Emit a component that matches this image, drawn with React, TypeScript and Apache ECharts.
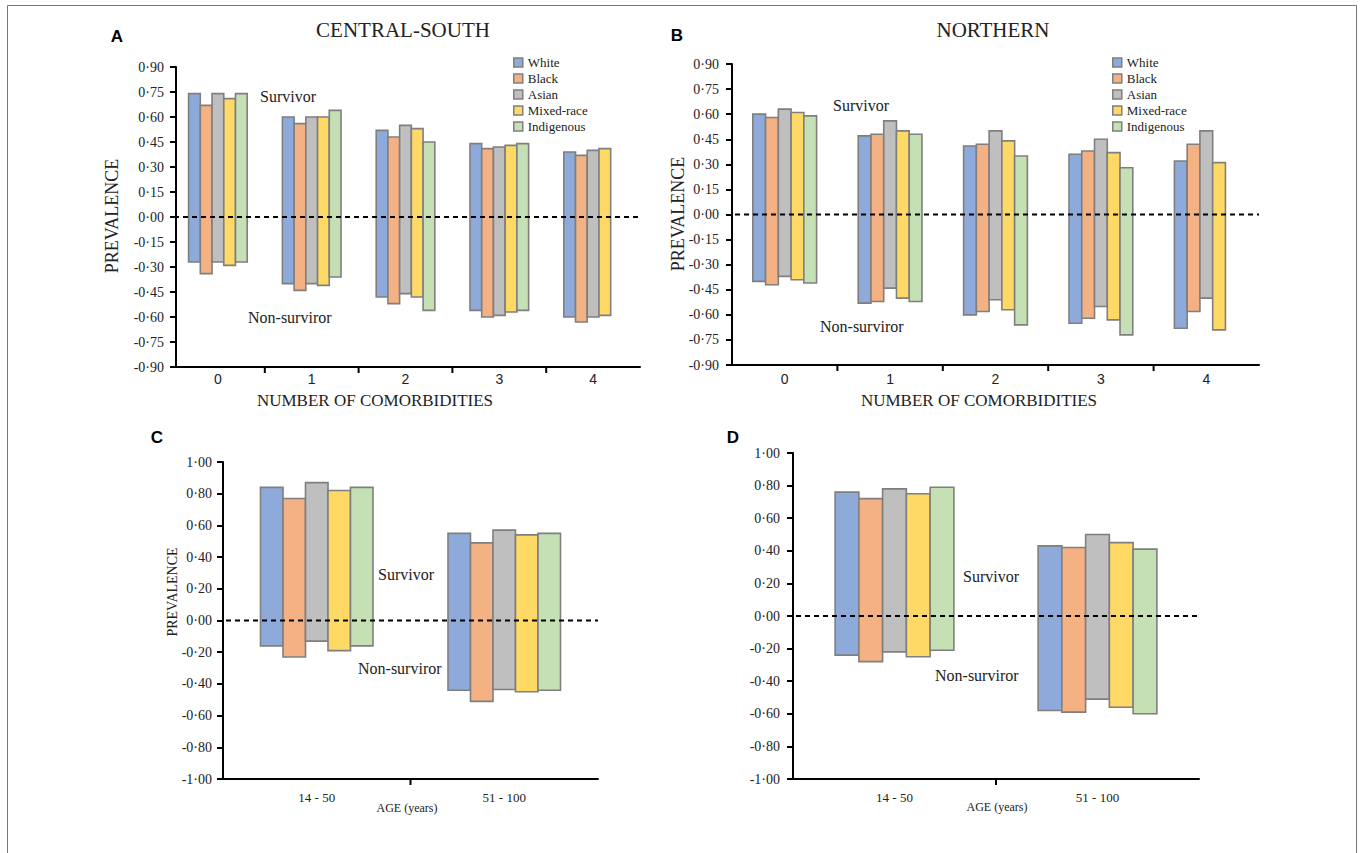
import React, { useEffect, useRef } from 'react';
import * as echarts from 'echarts';

const RACES = ['White', 'Black', 'Asian', 'Mixed-race', 'Indigenous'];
const RACE_COLORS = ['#8eaadb', '#f4b183', '#bfbfbf', '#ffd966', '#c5e0b4'];
const BORDER = '#7f7f7f';

const COMORBIDITY_CATEGORIES = ['0', '1', '2', '3', '4'];
const AGE_CATEGORIES = ['14 - 50', '51 - 100'];

const COMORB_TICKS = [-0.9, 0.9, 0.15];
const AGE_TICKS = [-1, 1, 0.2];

// Panel A – CENTRAL-SOUTH, by number of comorbidities (rows = races)
const A_SURVIVOR: (number | null)[][] = [
  [0.74, 0.60, 0.52, 0.44, 0.39],
  [0.67, 0.56, 0.48, 0.41, 0.37],
  [0.74, 0.60, 0.55, 0.42, 0.40],
  [0.71, 0.60, 0.53, 0.43, 0.41],
  [0.74, 0.64, 0.45, 0.44, null],
];
const A_NON_SURVIVOR: (number | null)[][] = [
  [-0.27, -0.40, -0.48, -0.56, -0.60],
  [-0.34, -0.44, -0.52, -0.60, -0.63],
  [-0.27, -0.40, -0.46, -0.59, -0.60],
  [-0.29, -0.41, -0.48, -0.57, -0.59],
  [-0.27, -0.36, -0.56, -0.56, null],
];

// Panel B – NORTHERN, by number of comorbidities
const B_SURVIVOR: (number | null)[][] = [
  [0.60, 0.47, 0.41, 0.36, 0.32],
  [0.58, 0.48, 0.42, 0.38, 0.42],
  [0.63, 0.56, 0.50, 0.45, 0.50],
  [0.61, 0.50, 0.44, 0.37, 0.31],
  [0.59, 0.48, 0.35, 0.28, null],
];
const B_NON_SURVIVOR: (number | null)[][] = [
  [-0.40, -0.53, -0.60, -0.65, -0.68],
  [-0.42, -0.52, -0.58, -0.62, -0.58],
  [-0.37, -0.44, -0.51, -0.55, -0.50],
  [-0.39, -0.50, -0.57, -0.63, -0.69],
  [-0.41, -0.52, -0.66, -0.72, null],
];

// Panel C – CENTRAL-SOUTH, by age group
const C_SURVIVOR: (number | null)[][] = [
  [0.84, 0.55],
  [0.77, 0.49],
  [0.87, 0.57],
  [0.82, 0.54],
  [0.84, 0.55],
];
const C_NON_SURVIVOR: (number | null)[][] = [
  [-0.16, -0.44],
  [-0.23, -0.51],
  [-0.13, -0.435],
  [-0.19, -0.45],
  [-0.16, -0.44],
];

// Panel D – NORTHERN, by age group
const D_SURVIVOR: (number | null)[][] = [
  [0.76, 0.43],
  [0.72, 0.42],
  [0.78, 0.50],
  [0.75, 0.45],
  [0.79, 0.41],
];
const D_NON_SURVIVOR: (number | null)[][] = [
  [-0.24, -0.58],
  [-0.28, -0.59],
  [-0.22, -0.51],
  [-0.25, -0.56],
  [-0.21, -0.60],
];

const SERIF = '"Liberation Serif", "Times New Roman", serif';
const SANS = '"Liberation Sans", Arial, sans-serif';

const fmt = (v: number) => {
  if (Math.abs(v) < 1e-9) return '0·00';
  return (v < 0 ? '-' : '') + Math.abs(v).toFixed(2).replace('.', '·');
};

type Panel = {
  grid: { left: number; top: number; width: number; height: number };
  cats: string[];
  ticks: number[];
  surv: (number | null)[][];
  non: (number | null)[][];
  barRatio: number;
  yOffset: number;
  labelMargin: number;
  xLabel: { fontFamily: string; fontSize: number; margin: number };
};

const PANELS: Panel[] = [
  {
    grid: { left: 171, top: 67, width: 469, height: 300 },
    cats: COMORBIDITY_CATEGORIES, ticks: COMORB_TICKS,
    surv: A_SURVIVOR, non: A_NON_SURVIVOR, barRatio: 0.125, yOffset: -5, labelMargin: 12,
    xLabel: { fontFamily: SANS, fontSize: 14, margin: 5 },
  },
  {
    grid: { left: 732, top: 64, width: 527, height: 301 },
    cats: COMORBIDITY_CATEGORIES, ticks: COMORB_TICKS,
    surv: B_SURVIVOR, non: B_NON_SURVIVOR, barRatio: 0.121, yOffset: 0, labelMargin: 13,
    xLabel: { fontFamily: SANS, fontSize: 14, margin: 7 },
  },
  {
    grid: { left: 223, top: 462, width: 375, height: 317 },
    cats: AGE_CATEGORIES, ticks: AGE_TICKS,
    surv: C_SURVIVOR, non: C_NON_SURVIVOR, barRatio: 0.12, yOffset: 0, labelMargin: 11,
    xLabel: { fontFamily: SERIF, fontSize: 13, margin: 12 },
  },
  {
    grid: { left: 793, top: 453, width: 406, height: 326 },
    cats: AGE_CATEGORIES, ticks: AGE_TICKS,
    surv: D_SURVIVOR, non: D_NON_SURVIVOR, barRatio: 0.117, yOffset: 0, labelMargin: 13,
    xLabel: { fontFamily: SERIF, fontSize: 13, margin: 12 },
  },
];

function buildOption() {
  const grid = PANELS.map((p) => ({ ...p.grid }));
  const xAxis = PANELS.map((p, g) => ({
    gridIndex: g,
    type: 'category',
    data: p.cats,
    axisLine: { show: true, onZero: false, lineStyle: { color: '#000', width: 2 } },
    axisTick: { show: false },
    axisLabel: { color: '#222', fontFamily: p.xLabel.fontFamily, fontSize: p.xLabel.fontSize, margin: p.xLabel.margin },
    splitLine: { show: false },
  }));
  const yAxis = PANELS.map((p, g) => ({
    gridIndex: g,
    type: 'value',
    min: p.ticks[0],
    max: p.ticks[1],
    interval: p.ticks[2],
    offset: p.yOffset,
    axisLine: { show: true, lineStyle: { color: '#000', width: 2 } },
    axisTick: { show: true, length: 6, lineStyle: { color: '#000', width: 2 } },
    splitLine: { show: false },
    axisLabel: { formatter: fmt, color: '#222', fontFamily: SERIF, fontSize: 14, margin: p.labelMargin },
  }));

  const series: any[] = [];
  PANELS.forEach((p, g) => {
    RACES.forEach((race, k) => {
      const data: number[][] = [];
      p.surv[k].forEach((v, i) => {
        const n = p.non[k][i];
        if (v != null && n != null) data.push([i, v, n]);
      });
      series.push({
        type: 'custom',
        name: race,
        xAxisIndex: g,
        yAxisIndex: g,
        z: 2,
        itemStyle: { color: RACE_COLORS[k], borderColor: BORDER, borderWidth: 1.5 },
        encode: { x: 0, y: [1, 2] },
        data,
        renderItem: (params: any, api: any) => {
          const i = api.value(0);
          const top = api.coord([i, api.value(1)]);
          const bot = api.coord([i, api.value(2)]);
          const band = api.size([1, 0])[0];
          const bw = band * p.barRatio;
          const x = top[0] + (k - RACES.length / 2) * bw;
          return {
            type: 'rect',
            shape: { x, y: top[1], width: bw, height: bot[1] - top[1] },
            style: { fill: RACE_COLORS[k], stroke: BORDER, lineWidth: 1.6 },
          };
        },
      });
    });
    // zero dashed line + interior category boundary ticks
    series.push({
      type: 'custom',
      name: 'axis-decor-' + g,
      xAxisIndex: g,
      yAxisIndex: g,
      z: 5,
      silent: true,
      encode: { x: 0, y: 1 },
      data: [[0, 0]],
      renderItem: (params: any, api: any) => {
        const cs = params.coordSys;
        const y0 = api.coord([0, 0])[1];
        const band = api.size([1, 0])[0];
        const children: any[] = [
          {
            type: 'line',
            shape: { x1: cs.x + 3, y1: y0, x2: cs.x + cs.width, y2: y0 },
            style: { stroke: '#000', lineWidth: 2, lineDash: [5, 4] },
          },
        ];
        for (let i = 1; i < p.cats.length; i++) {
          const cx = api.coord([i, 0])[0] - band / 2;
          const yb = cs.y + cs.height;
          children.push({
            type: 'line',
            shape: { x1: cx, y1: yb, x2: cx, y2: yb + 6 },
            style: { stroke: '#000', lineWidth: 2 },
          });
        }
        return { type: 'group', children };
      },
    });
  });

  const legendData = RACES.map((r, k) => ({
    name: r,
    itemStyle: { color: RACE_COLORS[k], borderColor: BORDER, borderWidth: 1.5 },
  }));
  const legendBase = {
    orient: 'vertical',
    icon: 'rect',
    itemWidth: 9,
    itemHeight: 9,
    itemGap: 1,
    padding: 0,
    selectedMode: false,
    textStyle: { fontFamily: SERIF, fontSize: 13, color: '#222', lineHeight: 15 },
    data: legendData,
  };
  const legend = [
    { ...legendBase, left: 513, top: 55 },
    { ...legendBase, left: 1112, top: 55 },
  ];

  const txt = (text: string, x: number, y: number, font: string, size: number, opts: any = {}) => ({
    type: 'text',
    x,
    y,
    rotation: opts.rotation || 0,
    silent: true,
    style: {
      text,
      fill: opts.fill || '#222',
      fontFamily: font,
      fontSize: size,
      fontWeight: opts.weight || 'normal',
      align: opts.align || 'center',
      verticalAlign: 'middle',
    },
  });

  const graphic = [
    {
      type: 'rect',
      silent: true,
      shape: { x: 7.5, y: 5.5, width: 1349, height: 900 },
      style: { fill: 'none', stroke: '#777', lineWidth: 1 },
    },
    txt('A', 117, 36, SANS, 17, { weight: 'bold', fill: '#000' }),
    txt('B', 677, 35, SANS, 17, { weight: 'bold', fill: '#000' }),
    txt('C', 157, 437, SANS, 17, { weight: 'bold', fill: '#000' }),
    txt('D', 733, 437, SANS, 17, { weight: 'bold', fill: '#000' }),
    txt('CENTRAL-SOUTH', 403, 30, SERIF, 21),
    txt('NORTHERN', 993, 30, SERIF, 21),
    txt('PREVALENCE', 112, 216, SERIF, 18, { rotation: Math.PI / 2 }),
    txt('PREVALENCE', 678, 214, SERIF, 18, { rotation: Math.PI / 2 }),
    txt('PREVALENCE', 172, 592, SERIF, 14, { rotation: Math.PI / 2 }),
    txt('NUMBER OF COMORBIDITIES', 375, 400, SERIF, 17),
    txt('NUMBER OF COMORBIDITIES', 979, 400, SERIF, 17),
    txt('AGE (years)', 407, 808, SERIF, 12),
    txt('AGE (years)', 997, 807, SERIF, 12),
    txt('Survivor', 260, 96, SERIF, 16, { align: 'left' }),
    txt('Non-surviror', 248, 317, SERIF, 16, { align: 'left' }),
    txt('Survivor', 833, 105, SERIF, 16, { align: 'left' }),
    txt('Non-surviror', 820, 326, SERIF, 16, { align: 'left' }),
    txt('Survivor', 378, 574, SERIF, 16, { align: 'left' }),
    txt('Non-surviror', 358, 668, SERIF, 16, { align: 'left' }),
    txt('Survivor', 963, 576, SERIF, 16, { align: 'left' }),
    txt('Non-surviror', 935, 675, SERIF, 16, { align: 'left' }),
  ];

  return {
    animation: false,
    backgroundColor: '#ffffff',
    grid,
    xAxis,
    yAxis,
    legend,
    series,
    graphic,
  };
}

export default function App() {
  const ref = useRef<HTMLDivElement>(null);
  useEffect(() => {
    if (!ref.current) return;
    const chart = echarts.init(ref.current, undefined, { renderer: 'svg' });
    chart.setOption(buildOption() as any);
    return () => chart.dispose();
  }, []);
  return (
    <div
      ref={ref}
      style={{ position: 'absolute', left: 0, top: 0, width: 1365, height: 853, background: '#fff' }}
    />
  );
}
